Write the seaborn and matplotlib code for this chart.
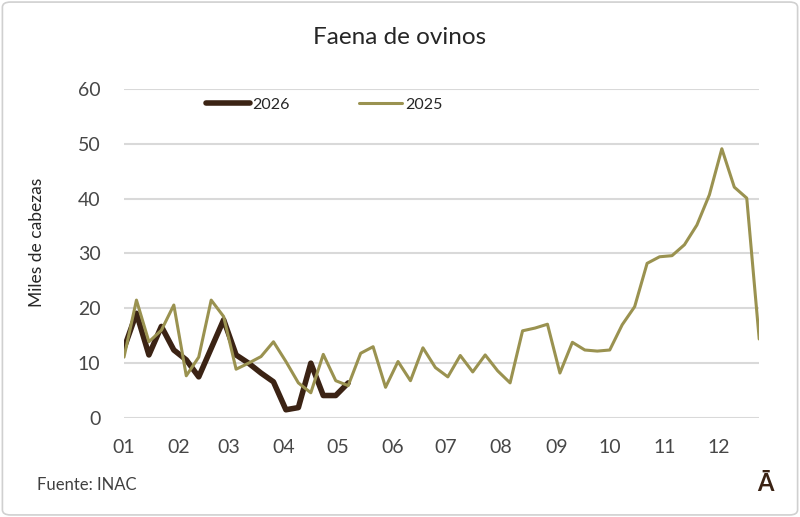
import numpy as np
import pandas as pd
import matplotlib
matplotlib.use("Agg")
import matplotlib.pyplot as plt
import seaborn as sns
from matplotlib.patches import FancyBboxPatch

# faena semanal de ovinos (miles de cabezas)
faena_2025 = [11.1, 21.5, 13.9, 16.0, 20.6, 7.7, 11.1, 21.5, 18.5, 8.9,
              10.0, 11.2, 13.9, 10.3, 6.4, 4.6, 11.6, 6.8, 5.9, 11.8,
              13.0, 5.6, 10.3, 6.8, 12.8, 9.2, 7.5, 11.4, 8.4, 11.5,
              8.6, 6.4, 15.9, 16.4, 17.1, 8.2, 13.8, 12.4, 12.2, 12.4,
              17.0, 20.3, 28.2, 29.4, 29.6, 31.6, 35.2, 40.7, 49.1, 42.1,
              40.1, 14.4]
faena_2026 = [12.7, 19.1, 11.5, 16.7, 12.4, 10.6, 7.5, 12.7, 17.9, 11.5,
              10.0, 8.2, 6.6, 1.5, 1.9, 10.0, 4.1, 4.1, 6.4]
meses = ["01", "02", "03", "04", "05", "06", "07", "08", "09", "10", "11", "12"]

# eje de fechas: dia del anio de cada semana
def dias(valores):
    return np.arange(len(valores)) * 7

df = pd.concat([
    pd.DataFrame({"dia": dias(faena_2026), "valor": faena_2026, "anio": "2026"}),
    pd.DataFrame({"dia": dias(faena_2025), "valor": faena_2025, "anio": "2025"}),
])
inicio_mes = pd.date_range("2025-01-01", periods=12, freq="MS").dayofyear - 1

sns.set_style("white")
plt.rcParams["font.family"] = ["Lato", "DejaVu Sans"]

colores = {"2026": "#3B2314", "2025": "#9A9250"}

fig = plt.figure(figsize=(8, 5.17), dpi=100)
ax = fig.add_axes([0.155, 0.1915, 0.794, 0.6364])

sns.lineplot(data=df[df.anio == "2025"], x="dia", y="valor", color=colores["2025"],
             lw=2.2, ax=ax, label="2025", zorder=3)
sns.lineplot(data=df[df.anio == "2026"], x="dia", y="valor", color=colores["2026"],
             lw=4, ax=ax, label="2026", zorder=2)

ax.set_xlim(0, (len(faena_2025) - 1) * 7)
ax.set_ylim(0, 60)
ax.set_yticks(range(0, 61, 10))
ax.set_xticks(inicio_mes)
ax.set_xticklabels(meses)
ax.tick_params(axis="both", length=0, labelsize=14, labelcolor="#474747")
ax.tick_params(axis="y", pad=17)
ax.tick_params(axis="x", pad=15)
ax.grid(axis="y", color="#D9D9D9", lw=1.5)
ax.set_axisbelow(True)
for s in ax.spines.values():
    s.set_visible(False)
ax.set_xlabel("")
ax.set_ylabel("")

handles, labels = ax.get_legend_handles_labels()
orden = [labels.index("2026"), labels.index("2025")]
ax.legend([handles[i] for i in orden], [labels[i] for i in orden],
          ncol=2, frameon=False, fontsize=11.5, handlelength=2.7,
          handletextpad=0.2, columnspacing=4.3,
          loc="center left", bbox_to_anchor=(0.24, 0.797),
          bbox_transform=fig.transFigure, labelcolor="#262626")

fig.text(0.5, 0.928, "Faena de ovinos", ha="center", va="center",
         fontsize=17.5, color="#262626")
fig.text(0.046, 0.532, "Miles de cabezas", rotation=90, ha="center",
         va="center", fontsize=12.5, color="#262626")
fig.text(0.046, 0.062, "Fuente: INAC", ha="left", va="center",
         fontsize=12, color="#404040")
fig.text(0.957, 0.064, "Ā", ha="center", va="center", fontsize=17,
         fontweight="bold", color="#3B2314")

fig.patches.append(FancyBboxPatch((0.003, 0.004), 0.994, 0.992,
                                  boxstyle="round,pad=0,rounding_size=0.01",
                                  transform=fig.transFigure, fill=False,
                                  edgecolor="#D0D0D0", lw=1.2))

fig.savefig("out.png", dpi=100)
